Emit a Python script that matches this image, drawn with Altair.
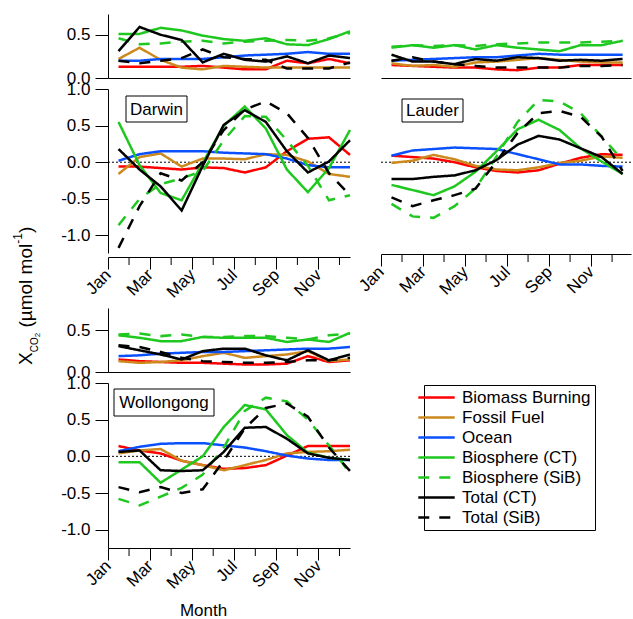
import json
import altair as alt
import pandas as pd

FONT = "Liberation Sans"

months = ["Jan", "Feb", "Mar", "Apr", "May", "Jun", "Jul", "Aug", "Sep", "Oct", "Nov", "Dec"]
series = ["Biomass Burning", "Fossil Fuel", "Ocean", "Biosphere (CT)",
          "Biosphere (SiB)", "Total (CT)", "Total (SiB)"]
colors = ["#ff0000", "#cc8a1e", "#0a50ff", "#1ec81e", "#1ec81e", "#000000", "#000000"]
dashes = [[1, 0], [1, 0], [1, 0], [1, 0], [11, 10], [1, 0], [11, 10]]

# ---- Darwin ----
darwin_top = {
    "Biomass Burning": [0.13, 0.13, 0.13, 0.13, 0.14, 0.12, 0.10, 0.10, 0.20, 0.17, 0.22, 0.17],
    "Fossil Fuel":     [0.22, 0.35, 0.21, 0.12, 0.10, 0.14, 0.13, 0.12, 0.12, 0.12, 0.12, 0.12],
    "Ocean":           [0.20, 0.20, 0.22, 0.22, 0.22, 0.24, 0.26, 0.27, 0.28, 0.30, 0.28, 0.28],
    "Biosphere (CT)":  [0.51, 0.51, 0.58, 0.55, 0.49, 0.45, 0.43, 0.46, 0.39, 0.38, 0.45, 0.54],
    "Biosphere (SiB)": [0.46, 0.39, 0.40, 0.42, 0.43, 0.40, 0.42, 0.43, 0.44, 0.43, 0.46, 0.52],
    "Total (CT)":      [0.31, 0.59, 0.50, 0.44, 0.18, 0.28, 0.21, 0.19, 0.25, 0.17, 0.26, 0.23],
    "Total (SiB)":     [0.20, 0.17, 0.20, 0.23, 0.33, 0.24, 0.22, 0.21, 0.11, 0.11, 0.11, 0.18],
}
darwin_main = {
    "Biomass Burning": [-0.06, -0.06, -0.08, -0.10, -0.07, -0.08, -0.14, -0.07, 0.15, 0.32, 0.34, 0.10],
    "Fossil Fuel":     [-0.16, 0.07, 0.12, -0.06, 0.05, 0.05, 0.04, 0.11, 0.10, 0.01, -0.16, -0.20],
    "Ocean":           [0.02, 0.11, 0.15, 0.15, 0.15, 0.13, 0.12, 0.11, 0.05, -0.04, -0.07, -0.07],
    "Biosphere (CT)":  [0.55, -0.04, -0.42, -0.52, -0.01, 0.50, 0.76, 0.46, -0.10, -0.41, -0.08, 0.44],
    "Biosphere (SiB)": [-0.86, -0.50, -0.30, -0.22, -0.12, 0.30, 0.63, 0.62, 0.30, -0.05, -0.52, -0.45],
    "Total (CT)":      [0.18, -0.10, -0.33, -0.66, -0.05, 0.51, 0.71, 0.55, 0.15, -0.14, 0.01, 0.30],
    "Total (SiB)":     [-1.17, -0.60, -0.15, -0.25, 0.00, 0.44, 0.72, 0.83, 0.67, 0.33, -0.15, -0.45],
}

# ---- Lauder ----
lauder_top = {
    "Biomass Burning": [0.15, 0.14, 0.13, 0.12, 0.12, 0.10, 0.09, 0.12, 0.12, 0.15, 0.15, 0.15],
    "Fossil Fuel":     [0.17, 0.14, 0.15, 0.13, 0.18, 0.19, 0.21, 0.23, 0.21, 0.19, 0.18, 0.18],
    "Ocean":           [0.20, 0.21, 0.22, 0.23, 0.24, 0.24, 0.26, 0.28, 0.27, 0.27, 0.27, 0.27],
    "Biosphere (CT)":  [0.35, 0.38, 0.35, 0.38, 0.33, 0.38, 0.35, 0.33, 0.31, 0.38, 0.38, 0.43],
    "Biosphere (SiB)": [0.36, 0.38, 0.37, 0.38, 0.37, 0.39, 0.40, 0.41, 0.41, 0.41, 0.42, 0.43],
    "Total (CT)":      [0.27, 0.19, 0.19, 0.16, 0.22, 0.20, 0.24, 0.23, 0.20, 0.21, 0.20, 0.22],
    "Total (SiB)":     [0.20, 0.24, 0.19, 0.16, 0.14, 0.12, 0.12, 0.12, 0.12, 0.14, 0.14, 0.15],
}
lauder_main = {
    "Biomass Burning": [0.09, 0.07, 0.05, 0.00, -0.07, -0.12, -0.14, -0.11, -0.02, 0.06, 0.11, 0.10],
    "Fossil Fuel":     [-0.01, 0.02, 0.10, 0.04, -0.05, -0.10, -0.11, -0.07, -0.01, 0.02, 0.08, 0.06],
    "Ocean":           [0.09, 0.16, 0.18, 0.20, 0.19, 0.18, 0.11, 0.04, -0.03, -0.03, -0.05, -0.06],
    "Biosphere (CT)":  [-0.31, -0.38, -0.45, -0.33, -0.13, 0.15, 0.45, 0.58, 0.44, 0.19, 0.01, -0.16],
    "Biosphere (SiB)": [-0.57, -0.74, -0.76, -0.60, -0.36, 0.08, 0.55, 0.85, 0.83, 0.67, 0.35, 0.03],
    "Total (CT)":      [-0.23, -0.23, -0.20, -0.18, -0.11, 0.03, 0.24, 0.36, 0.31, 0.19, 0.07, -0.16],
    "Total (SiB)":     [-0.48, -0.60, -0.52, -0.45, -0.36, 0.01, 0.40, 0.67, 0.70, 0.62, 0.35, -0.12],
}

# ---- Wollongong ----
woll_top = {
    "Biomass Burning": [0.15, 0.13, 0.12, 0.11, 0.11, 0.10, 0.09, 0.09, 0.10, 0.19, 0.12, 0.14],
    "Fossil Fuel":     [0.13, 0.11, 0.12, 0.14, 0.19, 0.23, 0.17, 0.19, 0.21, 0.25, 0.13, 0.15],
    "Ocean":           [0.19, 0.20, 0.22, 0.23, 0.24, 0.24, 0.25, 0.26, 0.27, 0.28, 0.28, 0.30],
    "Biosphere (CT)":  [0.44, 0.41, 0.37, 0.37, 0.42, 0.41, 0.41, 0.41, 0.36, 0.39, 0.36, 0.47],
    "Biosphere (SiB)": [0.45, 0.46, 0.43, 0.45, 0.42, 0.42, 0.43, 0.43, 0.41, 0.39, 0.44, 0.46],
    "Total (CT)":      [0.31, 0.26, 0.21, 0.15, 0.25, 0.28, 0.28, 0.20, 0.14, 0.26, 0.14, 0.21],
    "Total (SiB)":     [0.32, 0.30, 0.24, 0.17, 0.13, 0.12, 0.11, 0.11, 0.12, 0.14, 0.14, 0.17],
}
woll_main = {
    "Biomass Burning": [0.14, 0.08, 0.04, -0.06, -0.12, -0.17, -0.16, -0.12, 0.01, 0.14, 0.14, 0.14],
    "Fossil Fuel":     [0.04, 0.08, 0.10, -0.06, -0.12, -0.19, -0.12, -0.05, 0.04, 0.06, 0.07, 0.09],
    "Ocean":           [0.07, 0.13, 0.17, 0.18, 0.18, 0.15, 0.12, 0.07, 0.01, -0.03, -0.05, -0.05],
    "Biosphere (CT)":  [-0.08, -0.08, -0.36, -0.18, 0.00, 0.40, 0.70, 0.64, 0.29, 0.05, -0.02, -0.05],
    "Biosphere (SiB)": [-0.58, -0.67, -0.55, -0.43, -0.25, 0.12, 0.62, 0.80, 0.75, 0.50, 0.15, -0.23],
    "Total (CT)":      [0.06, 0.08, -0.19, -0.20, -0.19, 0.06, 0.39, 0.40, 0.24, 0.04, -0.02, -0.05],
    "Total (SiB)":     [-0.42, -0.49, -0.42, -0.50, -0.45, -0.06, 0.38, 0.66, 0.72, 0.54, 0.12, -0.20],
}

top_ticks = [0, 0.5]
main_ticks = [-1, -0.5, 0, 0.5, 1]
major_month_ticks = [0, 2, 4, 6, 8, 10]
minor_month_ticks = [1, 3, 5, 7, 9, 11]


def long_df(d):
    rows = []
    for k, s in enumerate(series):
        for i, v in enumerate(d[s]):
            rows.append({"pos": i + 0.5, "value": v, "series": s, "k": k})
    return pd.DataFrame(rows)


legend = alt.Legend(
    title=None, orient="none", legendX=316, legendY=371,
    symbolType="M-2.6,0H2.6", symbolSize=196, symbolStrokeWidth=2.5,
    labelFontSize=17, labelFont=FONT, labelColor="black", labelOffset=17,
    rowPadding=2, padding=4, strokeColor="black", fillColor="white",
    labelLimit=400,
)

ylabel_expr = "replace(format(datum.value, '.1f'), '\u2212', '-')"
xlabel_expr = json.dumps(months) + "[datum.value]"


def y_axis(values):
    return alt.Axis(values=values, labelExpr=ylabel_expr, tickSize=13, labelPadding=5,
                    title=None, grid=False)


def x_axis_main(offset, **kw):
    args = dict(values=major_month_ticks, labelExpr=xlabel_expr, labelAngle=-45,
                labelAlign="right", labelBaseline="middle", labelPadding=3,
                tickSize=12, offset=offset, grid=False, labelOverlap=False,
                labelFlush=False, labelBound=False, title=None)
    args.update(kw)
    return alt.Axis(**args)


x_axis_top = alt.Axis(ticks=False, labels=False, title=None, grid=False)


def panel(d, xdom, ydom, xaxis, yaxis, w, h, main=False, xoffset=0, label=None, boxpos=None,
          extra=None):
    xs = alt.Scale(domain=xdom, nice=False, zero=False)
    ys = alt.Scale(domain=ydom, nice=False, zero=False)
    layers = []
    if main:
        layers.append(
            alt.Chart(pd.DataFrame({"z": [0.0]})).mark_rule(
                color="black", strokeWidth=1, strokeDash=[2, 2]
            ).encode(y=alt.Y("z:Q", scale=ys, axis=yaxis))
        )
    layers.append(
        alt.Chart(long_df(d)).mark_line(strokeWidth=2.5).encode(
            x=alt.X("pos:Q", scale=xs, axis=xaxis),
            y=alt.Y("value:Q", scale=ys, axis=yaxis),
            color=alt.Color("series:N", scale=alt.Scale(domain=series, range=colors), legend=legend),
            strokeDash=alt.StrokeDash("series:N", scale=alt.Scale(domain=series, range=dashes),
                                      legend=legend),
            order=alt.Order("k:Q"),
        )
    )
    if main:
        # minor (unlabelled) month ticks
        layers.append(
            alt.Chart(pd.DataFrame({"m": minor_month_ticks})).mark_rule(
                color="black", strokeWidth=1
            ).encode(x=alt.X("m:Q", scale=xs, axis=xaxis),
                     y=alt.value(h + xoffset), y2=alt.value(h + xoffset + 8))
        )
    if label is not None:
        x1, x2, y1, y2 = boxpos
        one = pd.DataFrame({"k": [0]})
        layers.append(alt.Chart(one).mark_rect(fill="white", stroke="black", strokeWidth=1).encode(
            x=alt.value(x1), x2=alt.value(x2), y=alt.value(y1), y2=alt.value(y2)))
        layers.append(alt.Chart(one).mark_text(font=FONT, fontSize=17, color="black").encode(
            x=alt.value((x1 + x2) / 2), y=alt.value((y1 + y2) / 2 + 0.5), text=alt.value(label)))
    if extra:
        layers.extend(extra)
    return alt.layer(*layers).properties(width=w, height=h)


def ytitle_layers():
    one = pd.DataFrame({"k": [0]})
    pieces = [("X", 19, -76, 276), ("CO", 10, -70, 263.3), ("2", 8, -68, 248.3),
              ("(\u00b5mol mol", 19, -76, 238.6), ("-1", 12, -86, 154.8), (")", 19, -76, 144.1)]
    out = []
    for t, fs, x, y in pieces:
        out.append(alt.Chart(one).mark_text(font=FONT, fontSize=fs, angle=270, align="left",
                                            baseline="alphabetic", color="black").encode(
            x=alt.value(x), y=alt.value(y), text=alt.value(t)))
    return out


def blank(w, h):
    return alt.Chart(pd.DataFrame({"k": [0]})).mark_point(opacity=0).encode(
        x=alt.value(0), y=alt.value(0)).properties(width=w, height=h)


XD = [0, 11.5]
XL = [0, 11.9]
TOPD = [0, 0.74]
TOPW = [0, 0.767]
MAIND = [-1.24, 1.0]
MAINW = [-1.25, 1.0]

DT = panel(darwin_top, XD, TOPD, x_axis_top, y_axis(top_ticks), 242, 64)
LT = panel(lauder_top, XL, TOPD, x_axis_top, None, 250, 64)
DM = panel(darwin_main, XD, MAIND, x_axis_main(4), y_axis(main_ticks), 242, 164,
           main=True, xoffset=4, label="Darwin", boxpos=(18, 79, 7, 33), extra=ytitle_layers())
LM = panel(lauder_main, XL, MAIND, x_axis_main(1), None, 250, 164,
           main=True, xoffset=1, label="Lauder", boxpos=(21, 82, 10, 33))
WT = panel(woll_top, XD, TOPW, x_axis_top, y_axis(top_ticks), 242, 64)
WM = panel(woll_main, XD, MAINW,
           x_axis_main(0, title="Month", titleFontSize=17, titleFontWeight="normal",
                       titleFont=FONT, titleColor="black", titleX=95, titleY=62,
                       titleBaseline="middle", titleAlign="center"),
           y_axis(main_ticks), 242, 165,
           main=True, xoffset=0, label="Wollongong", boxpos=(6, 106, 6, 33))

chart = alt.concat(
    DT, LT,
    DM, LM,
    blank(242, 33), blank(250, 33),
    WT, blank(250, 1),
    WM, blank(250, 1),
    columns=2, spacing={"row": 11, "column": 31}, bounds="flush",
).resolve_scale(color="shared", strokeDash="shared").properties(
    padding={"left": 12, "top": 14, "right": 0, "bottom": 0}
).configure(font=FONT).configure_view(stroke=None).configure_axis(
    domainColor="black", domainWidth=1, tickColor="black", tickWidth=1,
    labelColor="black", labelFont=FONT, labelFontSize=17,
)

chart.save("out.html", embed_options={"renderer": "svg", "actions": False})
